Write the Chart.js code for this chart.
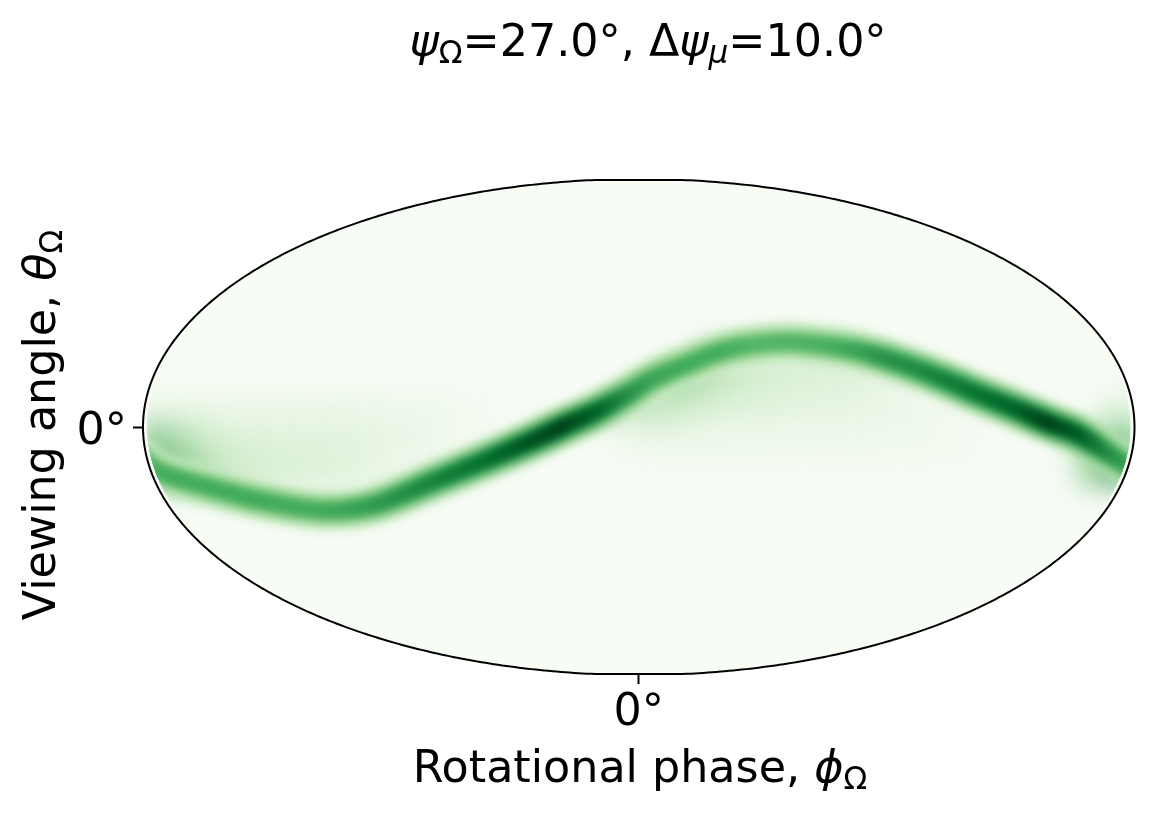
<!DOCTYPE html>
<html>
<head>
<meta charset="utf-8">
<title>Rotational phase map</title>
<script src="https://cdn.jsdelivr.net/npm/chart.js@4/dist/chart.umd.min.js"></script>
<style>
  html, body { margin: 0; background: #fff; }
  canvas { display: block; }
</style>
</head>
<body>
<canvas id="mapCanvas" width="1154" height="814"></canvas>
<script>
// ridge of the bright band
const ridgePhi = [-182, -174, -156, -138, -119, -107, -94, -76, -58, -40, -28, -15, -3, 5, 17, 29, 41, 54, 66, 78, 88, 100, 112, 124, 136, 148, 160, 172, 182];
const ridgeTheta = [-10.2, -16.4, -21.9, -26.6, -30, -30.2, -27.7, -20.4, -13.1, -5.5, 0, 5.8, 12.4, 17.5, 22.6, 27.3, 29.9, 31, 29.9, 28.1, 25.5, 21.5, 16.8, 11.7, 6.9, 1.8, -2.9, -10.5, -17];
const ridgePeak = [0.55, 0.62, 0.62, 0.63, 0.62, 0.65, 0.7, 0.78, 0.85, 0.95, 1, 0.9, 0.72, 0.65, 0.62, 0.62, 0.58, 0.58, 0.6, 0.65, 0.72, 0.75, 0.8, 0.85, 0.9, 1, 0.92, 0.72, 0.65];

// faint glow beside the band, coarse cells (percent of the colour scale)
const hazePhi = [-175, -165, -155, -145, -135, -125, -115, -105, -95, -85, -75, -65, -55, -45, -35, -25, -15, -5, 5, 15, 25, 35, 45, 55, 65, 75, 85, 95, 105, 115, 125, 135, 145, 155, 165, 175];
const hazeTheta = [25, 15, 5, -5, -15];
const hazeGrid = [
  [0, 0, 0, 0, 0, 0, 0, 0, 0, 0, 0, 0, 0, 0, 0, 0, 0, 0, 0, 0, 22, 22, 22, 22, 22, 22, 0, 0, 0, 0, 0, 0, 0, 0, 0, 0],
  [0, 0, 0, 0, 0, 0, 0, 0, 0, 0, 0, 0, 0, 0, 0, 0, 0, 0, 0, 50, 40, 30, 24, 20, 18, 18, 16, 10, 0, 0, 0, 0, 0, 0, 0, 0],
  [10, 10, 10, 10, 10, 10, 10, 10, 9, 8, 6, 4, 2, 1, 0, 0, 0, 30, 38, 28, 20, 17, 16, 15, 14, 13, 11, 9, 6, 3, 0, 0, 0, 0, 0, 22],
  [55, 38, 24, 18, 17, 16, 16, 15, 14, 12, 9, 4, 0, 0, 0, 0, 0, 4, 7, 8, 8, 7, 7, 7, 7, 7, 7, 6, 5, 4, 2, 0, 0, 0, 20, 60],
  [75, 55, 38, 28, 24, 22, 20, 18, 14, 7, 0, 0, 0, 0, 0, 0, 0, 0, 0, 0, 0, 0, 0, 0, 0, 0, 0, 0, 0, 0, 0, 0, 0, 0, 50, 85]
];

const hazeCells = [];
hazeTheta.forEach((theta, r) => {
  hazePhi.forEach((phi, c) => {
    if (hazeGrid[r][c] > 0) hazeCells.push({ x: phi, y: theta, v: hazeGrid[r][c] / 100 });
  });
});
const ridgePoints = ridgePhi.map((phi, i) => ({ x: phi, y: ridgeTheta[i] }));

// Greens colour scale
const greens = [[247, 252, 245], [229, 245, 224], [199, 233, 192], [161, 217, 155], [116, 196, 118], [65, 171, 93], [35, 139, 69], [0, 109, 44], [0, 68, 27]];
function greenColor(v) {
  const p = Math.max(0, Math.min(1, v)) * (greens.length - 1);
  const i = Math.min(Math.floor(p), greens.length - 2);
  const f = p - i;
  const c = greens[i].map((a, k) => Math.round(a + (greens[i + 1][k] - a) * f));
  return `rgb(${c[0]},${c[1]},${c[2]})`;
}

// stroke colour follows the ridge brightness along phi
function bandGradient(factor) {
  return (ctx) => {
    const area = ctx.chart.chartArea;
    if (!area) return greenColor(0.5 * factor);
    const g = ctx.chart.ctx.createLinearGradient(area.left, 0, area.right, 0);
    ridgePhi.forEach((phi, i) => {
      const off = Math.max(0, Math.min(1, (phi + 180) / 360));
      g.addColorStop(off, greenColor(ridgePeak[i] * factor));
    });
    return g;
  };
}

function ellipsePath(ctx, chart, shrink) {
  const { x, y } = chart.scales;
  const cx = x.getPixelForValue(0), cy = y.getPixelForValue(0);
  ctx.beginPath();
  ctx.ellipse(cx, cy, x.getPixelForValue(180) - cx - shrink, cy - y.getPixelForValue(90) - shrink / 4, 0, 0, Math.PI * 2);
}

const FONT = '"DejaVu Sans"';
// text with italic letters and subscripts, like the mathtext labels
function textRuns(ctx, runs, size, x, y, center) {
  const fontOf = (r) => `${r.i ? 'italic ' : ''}${r.sub ? size * 0.7 : size}px ${FONT}`;
  let total = 0;
  runs.forEach((r) => { ctx.font = fontOf(r); total += ctx.measureText(r.t).width; });
  let px = center ? x - total / 2 : x;
  ctx.fillStyle = '#000';
  ctx.textBaseline = 'alphabetic';
  ctx.textAlign = 'left';
  runs.forEach((r) => {
    ctx.font = fontOf(r);
    ctx.fillText(r.t, px, y + (r.sub ? size * 0.16 : 0));
    px += ctx.measureText(r.t).width;
  });
}

const mapPlugin = {
  id: 'mapPlugin',
  beforeDatasetsDraw(chart) {
    const ctx = chart.ctx;
    ctx.save();
    ellipsePath(ctx, chart, 1);
    ctx.fillStyle = greenColor(0);
    ctx.fill();
    ctx.restore();
  },
  beforeDatasetDraw(chart, args) {
    const ctx = chart.ctx;
    ctx.save();
    ellipsePath(ctx, chart, 4);
    ctx.clip();
    ctx.filter = `blur(${chart.data.datasets[args.index].blur}px)`;
  },
  afterDatasetDraw(chart) {
    chart.ctx.restore();
  },
  afterDatasetsDraw(chart) {
    const ctx = chart.ctx;
    const { x, y } = chart.scales;
    const cx = x.getPixelForValue(0), cy = y.getPixelForValue(0);
    const rx = x.getPixelForValue(180) - cx, ry = cy - y.getPixelForValue(90);
    // outline, flattened where it meets the top and bottom of the axes
    ctx.save();
    ctx.beginPath();
    for (let a = 0; a <= 720; a++) {
      const t = a * Math.PI / 360;
      const py = Math.max(-ry, Math.min(ry, (ry + 1) * Math.sin(t)));
      ctx.lineTo(cx + rx * Math.cos(t), cy + py);
    }
    ctx.closePath();
    ctx.lineWidth = 2;
    ctx.strokeStyle = '#000';
    ctx.stroke();
    ctx.restore();
  },
  afterDraw(chart) {
    const ctx = chart.ctx;
    ctx.save();
    textRuns(ctx, [
      { t: 'ψ', i: true }, { t: 'Ω', sub: true }, { t: '=27.0°, Δ' },
      { t: 'ψ', i: true }, { t: 'μ', i: true, sub: true }, { t: '=10.0°' }
    ], 44.4, 648, 56, true);
    textRuns(ctx, [{ t: 'Rotational phase, ' }, { t: 'ϕ', i: true }, { t: 'Ω', sub: true }], 44.4, 640, 782, true);
    ctx.translate(55, 425);
    ctx.rotate(-Math.PI / 2);
    textRuns(ctx, [{ t: 'Viewing angle, ' }, { t: 'θ', i: true }, { t: 'Ω', sub: true }], 44.4, 0, 0, true);
    ctx.restore();
  }
};

function bandLine(factor, width, blur, order) {
  return {
    type: 'line',
    data: ridgePoints,
    borderColor: bandGradient(factor),
    borderWidth: width,
    borderCapStyle: 'round',
    borderJoinStyle: 'round',
    tension: 0.35,
    pointRadius: 0,
    clip: false,
    blur: blur,
    order: order
  };
}

new Chart(document.getElementById('mapCanvas').getContext('2d'), {
  type: 'scatter',
  data: {
    datasets: [
      bandLine(1, 14, 3, 0),
      bandLine(0.8, 26, 4, 1),
      bandLine(0.4, 40, 5, 2),
      {
        type: 'scatter',
        data: hazeCells,
        pointStyle: 'rect',
        pointRadius: 19.5,
        borderWidth: 0,
        backgroundColor: (ctx) => greenColor(ctx.raw ? ctx.raw.v : 0),
        clip: false,
        blur: 15,
        order: 3
      }
    ]
  },
  options: {
    responsive: false,
    animation: false,
    devicePixelRatio: 1,
    layout: { padding: { top: 180, right: 19, left: 0, bottom: 0 } },
    plugins: { legend: { display: false }, tooltip: { enabled: false } },
    scales: {
      x: {
        type: 'linear', min: -180, max: 180,
        afterFit: (s) => { s.height = 140; },
        afterBuildTicks: (s) => { s.ticks = [{ value: 0 }]; },
        grid: { drawOnChartArea: false, tickLength: 10, tickWidth: 2, tickColor: '#000' },
        border: { display: false },
        ticks: { callback: () => '0°', color: '#000', padding: 3, maxRotation: 0, font: { family: 'DejaVu Sans', size: 44.4 } }
      },
      y: {
        type: 'linear', min: -90, max: 90,
        afterFit: (s) => { s.width = 143; },
        afterBuildTicks: (s) => { s.ticks = [{ value: 0 }]; },
        grid: { drawOnChartArea: false, tickLength: 10, tickWidth: 2, tickColor: '#000' },
        border: { display: false },
        // empty first line nudges the label down to where the reference has it
        ticks: { callback: () => ['', '0°'], color: '#000', padding: 6, font: { family: 'DejaVu Sans', size: 44.4, lineHeight: 0.25 } }
      }
    }
  },
  plugins: [mapPlugin]
});
</script>
</body>
</html>
